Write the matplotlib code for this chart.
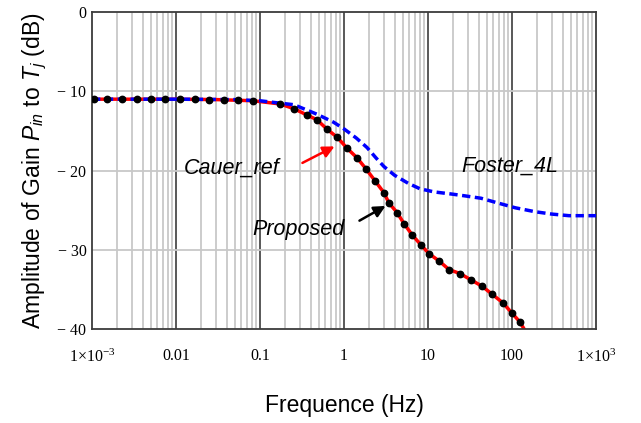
import numpy as np
import matplotlib.pyplot as plt
from matplotlib.ticker import FixedLocator, NullFormatter

plt.rcParams['mathtext.fontset'] = 'custom'
plt.rcParams['mathtext.rm'] = 'Liberation Serif'
plt.rcParams['mathtext.it'] = 'Liberation Sans:italic'
plt.rcParams['mathtext.sf'] = 'Liberation Sans'

# data (frequency in Hz, gain in dB)
prop_f = [0.00106, 0.00151, 0.00228, 0.00344, 0.00504, 0.0074, 0.0112, 0.0168,
          0.0247, 0.0373, 0.0547, 0.083, 0.173, 0.254, 0.363, 0.477, 0.63, 0.83,
          1.09, 1.43, 1.83, 2.34, 2.99, 3.43, 4.28, 5.18, 6.45, 8.26, 10.3, 13.5,
          17.8, 24.0, 32.5, 44.0, 57.8, 78.0, 100.0, 124.0]
prop_db = [-11.0, -11.0, -11.0, -11.0, -11.0, -11.0, -11.0, -11.0,
           -11.05, -11.05, -11.1, -11.2, -11.6, -12.2, -13.0, -13.6, -14.8, -15.8,
           -17.2, -18.4, -19.8, -21.3, -22.8, -24.1, -25.3, -26.7, -28.1, -29.4, -30.5, -31.4,
           -32.5, -33.0, -33.8, -34.6, -35.6, -36.7, -38.0, -39.1]

cauer_f = [0.001, 0.01, 0.03, 0.083, 0.173, 0.254, 0.363, 0.477, 0.63, 0.83,
           1.09, 1.43, 1.83, 2.34, 2.99, 3.43, 4.28, 5.18, 6.45, 8.26, 10.3, 13.5,
           17.8, 24.0, 32.5, 44.0, 57.8, 78.0, 100.0, 124.0, 143.0]
cauer_db = [-11.0, -11.0, -11.05, -11.2, -11.6, -12.2, -13.0, -13.6, -14.8, -15.8,
            -17.2, -18.4, -19.8, -21.3, -22.8, -24.1, -25.3, -26.7, -28.1, -29.4, -30.5, -31.4,
            -32.5, -33.0, -33.8, -34.6, -35.6, -36.7, -38.0, -39.1, -40.2]

foster_f = [0.001, 0.01, 0.05, 0.1, 0.173, 0.254, 0.477, 0.75, 1.0, 1.4, 1.88, 2.4, 2.99,
            4.0, 5.78, 8.0, 11.8, 18.8, 27.5, 42.8, 68.0, 109.0, 188.0, 299.0, 477.0, 1000.0]
foster_db = [-11.0, -11.0, -11.05, -11.2, -11.5, -11.7, -12.9, -13.9, -14.75, -15.9, -17.1,
             -18.4, -19.5, -20.6, -21.6, -22.3, -22.7, -22.96, -23.2, -23.5, -24.1, -24.7,
             -25.2, -25.5, -25.7, -25.7]

xticks = [1e-3, 1e-2, 1e-1, 1, 10, 100, 1000]
xticklabels = [r'$\mathrm{1{\times}10^{-3}}$', '0.01', '0.1', '1', '10', '100',
               r'$\mathrm{1{\times}10^{3}}$']
yticks = [-40, -30, -20, -10, 0]
yticklabels = ['\u2212 40', '\u2212 30', '\u2212 20', '\u2212 10', '0']

fig = plt.figure(figsize=(6.41, 4.23), dpi=100)
ax = fig.add_axes([0.1435, 0.2222, 0.7863, 0.7494])

ax.set_xscale('log')
ax.set_xlim(1e-3, 1e3)
ax.set_ylim(-40, 0)

# grid
minor = [m * 10.0 ** e for e in range(-3, 3) for m in range(2, 10)]
for v in minor:
    ax.axvline(v, color='#c8c8c8', lw=1.3, zorder=0)
for v in xticks[1:-1]:
    ax.axvline(v, color='#3c3c3c', lw=1.2, zorder=0.5)
for v in yticks[1:-1]:
    ax.axhline(v, color='#c8c8c8', lw=1.3, zorder=0.5)

ax.plot(cauer_f, cauer_db, color='red', lw=2.5, zorder=2)
ax.plot(foster_f, foster_db, color='#0000ff', lw=2.5, ls=(0, (2.4, 1.3)), zorder=3)
ax.plot(prop_f, prop_db, ls='none', marker='o', ms=4.6, color='black', zorder=4)

ax.xaxis.set_major_locator(FixedLocator(xticks))
ax.xaxis.set_minor_formatter(NullFormatter())
ax.set_xticks(xticks)
ax.set_xticklabels(xticklabels, fontfamily='Liberation Serif', fontsize=11.5)
ax.set_yticks(yticks)
ax.set_yticklabels(yticklabels, fontfamily='Liberation Serif', fontsize=11.5)
ax.tick_params(axis='x', which='both', length=0, pad=14)
ax.tick_params(axis='y', which='both', length=0, pad=4)

for s in ax.spines.values():
    s.set_color('#3c3c3c')
    s.set_linewidth(1.3)

ax.set_xlabel('Frequence (Hz)', fontfamily='Liberation Sans', fontsize=16.5, labelpad=20)
ax.set_ylabel(r'Amplitude of Gain $P_{in}$ to $T_j$ (dB)', fontfamily='Liberation Sans',
              fontsize=16.5, labelpad=6)

# labels and arrows
txt = dict(fontfamily='Liberation Sans', fontstyle='italic', fontsize=15.5,
           ha='center', va='center', zorder=5)
ax.text(0.0464, -19.7, 'Cauer_ref', **txt)
ax.text(0.291, -27.4, 'Proposed', **txt)
ax.text(94.6, -19.5, 'Foster_4L', **txt)
ax.annotate('', xy=(0.826, -16.8), xytext=(0.299, -19.2),
            arrowprops=dict(arrowstyle='-|>', color='red', lw=1.8, mutation_scale=17))
ax.annotate('', xy=(3.34, -24.3), xytext=(1.43, -26.5),
            arrowprops=dict(arrowstyle='-|>', color='black', lw=1.8, mutation_scale=17))

fig.savefig('out.png', dpi=100)
